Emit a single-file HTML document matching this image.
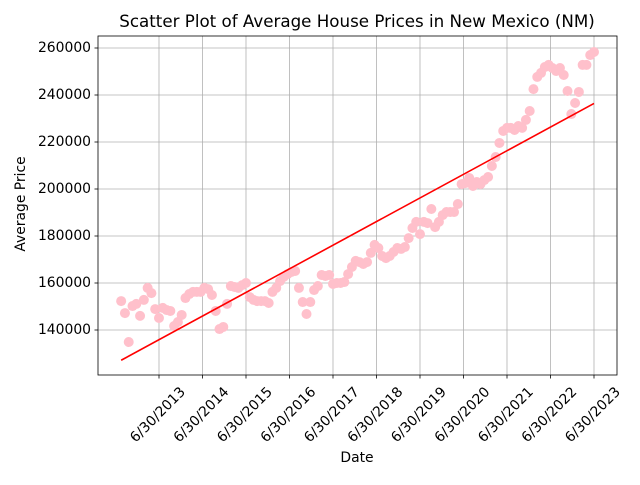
<!DOCTYPE html>
<html><head><meta charset="utf-8"><style>
body{margin:0;background:#fff;font-family:"Liberation Sans","DejaVu Sans",sans-serif;}
svg text{font-family:"DejaVu Sans","Liberation Sans",sans-serif;fill:#000;}
</style></head><body>
<svg id="c" width="640" height="480" xmlns="http://www.w3.org/2000/svg">
<rect width="640" height="480" fill="#fff"/>
<g id="grid"></g><g id="marks"></g><g id="axes"></g>
<text x="357" y="27" text-anchor="middle" font-size="16.7">Scatter Plot of Average House Prices in New Mexico (NM)</text>
<text x="357" y="462" text-anchor="middle" font-size="13.9">Date</text>
<text x="21" y="204" text-anchor="middle" dominant-baseline="central" font-size="13.9" transform="rotate(-90 21 204)">Average Price</text>
</svg>
<script>
const startYear = 2012.63, endYear = 2023.5;
const prices = [152.3,147.2,134.9,150.2,151.1,146.0,152.8,157.9,155.7,148.9,145.1,149.4,148.5,148.1,141.7,143.4,146.4,153.6,155.3,156.2,156.2,156.2,157.9,157.4,154.9,148.1,140.4,141.3,151.1,158.7,158.3,157.9,159.1,160.0,154.0,152.8,152.3,152.3,152.3,151.5,156.2,157.9,160.8,162.6,163.8,164.7,165.1,157.9,151.9,146.8,151.9,157.0,158.7,163.4,163.0,163.4,159.6,160.0,160.0,160.4,163.8,166.8,169.4,168.9,168.1,168.9,172.8,176.2,174.9,171.5,170.6,171.5,173.2,174.9,174.5,175.3,179.1,183.4,186.0,180.8,186.0,185.5,191.5,183.8,186.0,188.9,190.2,190.2,190.2,193.6,202.1,202.5,204.7,201.3,203.0,202.1,203.8,205.1,209.8,213.6,219.6,224.7,226.0,226.0,225.1,226.8,226.0,229.4,233.2,242.5,247.7,249.4,251.9,252.8,251.5,250.2,251.5,248.5,241.7,231.9,236.6,241.3,252.8,252.8,257.0,258.3];
const yTicks = [140000,160000,180000,200000,220000,240000,260000];
const xTickYears = [2013,2014,2015,2016,2017,2018,2019,2020,2021,2022,2023];
const NS="http://www.w3.org/2000/svg";
const L=98,R=617,T=36,B=375;
const xs=yr=>159+(yr-2013.5)*43.5;
const ys=v=>330-(v-140000)/1000*2.35;
function mk(tag,attrs,parent){const e=document.createElementNS(NS,tag);for(const k in attrs)e.setAttribute(k,attrs[k]);parent.appendChild(e);return e;}
const grid=document.getElementById('grid'),marks=document.getElementById('marks'),axes=document.getElementById('axes');
yTicks.forEach(v=>{const y=ys(v);
 const g=mk('line',{x1:L,x2:R,y1:y,y2:y,stroke:'#b0b0b0','stroke-width':0.8},grid);
 
 mk('line',{x1:L-3.5,x2:L,y1:y,y2:y,stroke:'#000','stroke-width':0.8},axes);
 const t=mk('text',{x:L-7,y:y,'text-anchor':'end','dominant-baseline':'central','font-size':13.9},axes);t.textContent=v;
 });
xTickYears.forEach(yr=>{const x=xs(yr+0.5);
 const g=mk('line',{x1:x,x2:x,y1:T,y2:B,stroke:'#b0b0b0','stroke-width':0.8},grid);
 
 mk('line',{x1:x,x2:x,y1:B,y2:B+3.5,stroke:'#000','stroke-width':0.8},axes);
 const t=mk('text',{x:x-1,y:415,'text-anchor':'middle','dominant-baseline':'central','font-size':13.9,transform:`rotate(-45 ${x-1} 415)`},axes);t.textContent='6/30/'+yr;
 });
const n=prices.length, dates=prices.map((_,i)=>startYear+(endYear-startYear)*i/(n-1));
dates.forEach((d,i)=>{const c=mk('circle',{cx:xs(d),cy:ys(prices[i]*1000),r:5,fill:'#ffc0cb'},marks);
 });
let mx=0,my=0;dates.forEach((d,i)=>{mx+=d;my+=prices[i];});mx/=n;my/=n;
let sxy=0,sxx=0;dates.forEach((d,i)=>{sxy+=(d-mx)*(prices[i]-my);sxx+=(d-mx)*(d-mx);});
const slope=sxy/sxx,ic=my-slope*mx;
const ln=mk('line',{x1:xs(dates[0]),y1:ys((ic+slope*dates[0])*1000),x2:xs(dates[n-1]),y2:ys((ic+slope*dates[n-1])*1000),stroke:'red','stroke-width':1.6},marks);

const f=mk('rect',{x:L,y:T,width:R-L,height:B-T,fill:'none',stroke:'#000','stroke-width':0.8},axes);

</script>
</body></html>
